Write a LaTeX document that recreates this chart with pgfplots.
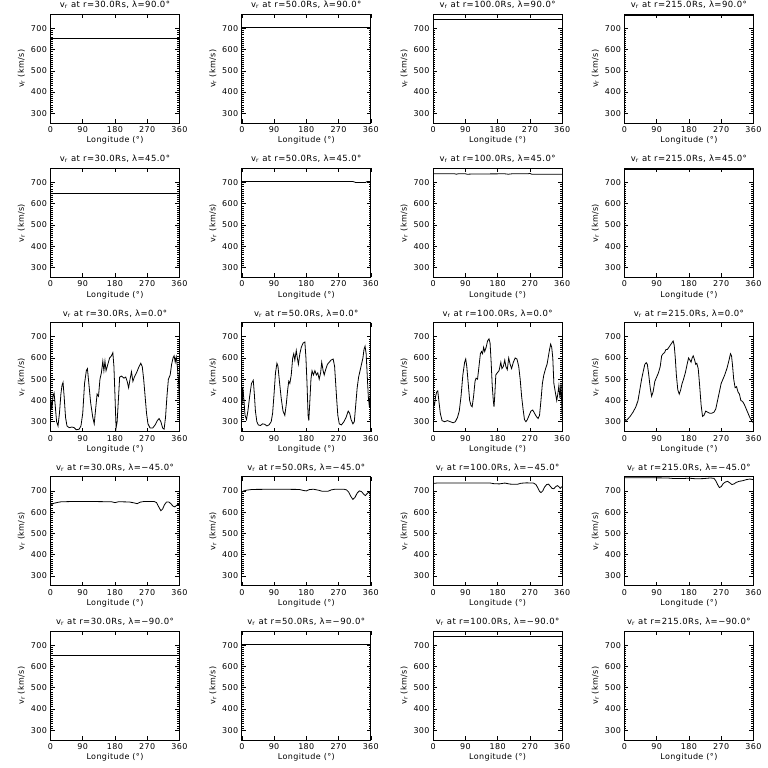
\documentclass[border=0pt]{standalone}
\usepackage{fontspec}
\setmainfont{DejaVu Sans}
\newfontfamily\idlfont[LetterSpace=5]{DejaVu Sans}
\usepackage{pgfplots}
\pgfplotsset{compat=1.18}
\pgfplotsset{
 panel/.style={
  scale only axis, width=129pt, height=109pt, anchor=south west,
  xmin=0, xmax=360, ymin=253, ymax=766,
  xtick={0,90,180,270,360}, ytick={300,400,500,600,700},
  minor y tick num=9,
  tick align=inside,
  major tick length=4pt, minor tick length=2pt,
  axis line style={line width=0.8pt},
  every tick/.style={black, line width=0.6pt},
  xlabel={Longitude (°)}, ylabel={v\textsubscript{r} (km/s)},
  tick label style={font=\idlfont\fontsize{8}{8}\selectfont},
  label style={font=\idlfont\fontsize{8}{8}\selectfont},
  title style={font=\idlfont\fontsize{8.5}{9}\selectfont, yshift=-4pt},
  xlabel style={yshift=3pt},
  ylabel style={yshift=-1pt},
  /pgf/number format/assume math mode=true,
  every axis plot post/.append style={black, line width=0.8pt, mark=none},
 }
}
\newcommand\panel[5]{%
\begin{axis}[panel, at={(#1pt,#2pt)}, title={v\textsubscript{r} at r=#3Rs, λ=#4°}]
#5
\end{axis}}
\begin{document}
\begin{tikzpicture}
\useasboundingbox (0,0) rectangle (768pt,768pt);
% Row 1: lambda = 90
\panel{50.5}{644.7}{30.0}{90.0}{\addplot coordinates {(0,652) (360,652)};}
\panel{241.8}{644.7}{50.0}{90.0}{\addplot coordinates {(0,705) (360,705)};}
\panel{433.1}{644.7}{100.0}{90.0}{\addplot coordinates {(0,740) (360,740)};}
\panel{624.4}{644.7}{215.0}{90.0}{\addplot coordinates {(0,763) (360,763)};}
% Row 2: lambda = 45
\panel{50.5}{490.5}{30.0}{45.0}{\addplot coordinates {(0,650) (360,650)};}
\panel{241.8}{490.5}{50.0}{45.0}{\addplot coordinates {(0,705) (310,705) (318,700) (345,700) (350,705) (360,705)};}
\panel{433.1}{490.5}{100.0}{45.0}{\addplot coordinates {(0,741) (60,741) (65,739) (70,741) (90,741) (95,739) (110,740) (200,741) (210,739) (220,741) (265,741) (270,743) (275,739) (360,739)};}
\panel{624.4}{490.5}{215.0}{45.0}{\addplot coordinates {(0,763) (360,763)};}
% Row 3: lambda = 0
\panel{50.5}{336.3}{30.0}{0.0}{\addplot coordinates {
(0,350) (2,400) (4,360) (7,420) (10,435) (13,380) (17,300) (21,280) (25,340) (29,430) (32,470) (35,485) (38,420) (42,320) (46,280) (52,272) (60,275) (66,272) (72,262) (80,265) (85,280) (90,340) (95,480) (100,540) (103,550) (107,480) (112,390) (118,320) (122,290) (126,360) (130,430) (134,420) (138,500) (142,530) (146,585) (149,540) (152,585) (155,540) (160,570) (165,600) (170,610) (174,625) (177,560) (180,420) (183,270) (186,300) (190,420) (193,510) (198,515) (205,505) (210,510) (214,490) (218,460) (222,500) (226,535) (230,490) (234,510) (240,530) (246,555) (252,575) (256,560) (260,500) (264,420) (268,340) (272,290) (278,270) (285,270) (292,285) (298,305) (303,315) (308,300) (313,270) (317,265) (321,320) (325,420) (329,500) (334,520) (338,570) (342,600) (345,610) (348,580) (351,605) (354,560) (357,500) (359,430) (360,400)};}
\panel{241.8}{336.3}{50.0}{0.0}{\addplot coordinates {
(0,460) (1,380) (3,460) (6,400) (9,330) (13,310) (17,350) (22,420) (27,480) (32,495) (35,430) (38,350) (42,300) (46,285) (52,282) (58,290) (64,288) (70,280) (76,285) (82,300) (86,340) (90,430) (94,530) (98,575) (101,560) (105,490) (110,410) (115,350) (120,330) (124,380) (128,450) (131,490) (134,480) (138,520) (142,600) (145,620) (148,590) (152,635) (155,600) (158,570) (162,620) (166,650) (171,670) (176,675) (179,600) (182,480) (185,330) (187,305) (190,400) (193,500) (196,540) (200,520) (204,540) (208,520) (212,530) (216,500) (220,530) (223,580) (227,540) (230,520) (234,545) (239,570) (244,580) (249,590) (255,595) (259,560) (262,480) (265,400) (268,330) (272,290) (278,285) (285,300) (291,320) (297,350) (301,340) (305,310) (310,290) (314,300) (318,380) (322,460) (326,510) (330,540) (334,570) (338,600) (341,640) (344,655) (347,620) (350,520) (353,420) (356,370) (358,420) (360,360)};}
\panel{433.1}{336.3}{100.0}{0.0}{\addplot coordinates {
(0,340) (2,390) (4,380) (7,420) (10,440) (13,445) (16,400) (20,340) (25,305) (32,300) (40,305) (48,300) (56,295) (62,300) (68,320) (73,350) (78,420) (83,520) (88,580) (91,595) (94,560) (98,480) (102,400) (106,375) (109,370) (113,420) (117,490) (120,505) (124,500) (128,560) (132,620) (135,630) (138,620) (141,650) (144,630) (148,650) (152,680) (156,690) (159,670) (162,580) (165,470) (168,400) (170,370) (172,420) (175,520) (179,530) (184,540) (189,580) (192,550) (196,560) (200,590) (203,560) (207,545) (211,600) (215,570) (219,550) (224,580) (229,600) (234,595) (239,560) (243,500) (247,420) (251,360) (255,310) (259,300) (263,310) (268,330) (273,350) (278,355) (283,340) (288,325) (293,315) (297,330) (301,400) (305,480) (309,520) (314,550) (318,570) (321,600) (325,640) (328,665) (331,650) (334,600) (337,480) (341,440) (345,400) (348,430) (351,470) (354,410) (357,480) (360,340)};}
\panel{624.4}{336.3}{215.0}{0.0}{\addplot coordinates {
(0,300) (8,310) (16,325) (24,345) (32,370) (38,400) (43,450) (48,500) (53,540) (57,570) (61,578) (64,570) (68,520) (72,460) (76,420) (80,440) (85,490) (90,510) (95,530) (100,560) (104,610) (108,620) (112,625) (116,640) (120,640) (124,650) (128,660) (132,670) (136,680) (139,660) (142,600) (145,520) (149,450) (153,430) (157,450) (161,480) (165,500) (170,530) (175,570) (179,600) (183,590) (186,580) (189,600) (192,610) (196,590) (199,570) (202,575) (206,550) (210,470) (214,380) (218,325) (222,330) (227,350) (232,345) (238,340) (244,340) (250,345) (255,360) (260,400) (265,440) (270,480) (275,500) (280,520) (286,550) (292,590) (296,620) (299,610) (302,560) (305,500) (309,460) (313,465) (317,440) (321,430) (325,400) (330,395) (335,380) (340,360) (345,340) (350,320) (355,305) (360,295)};}
% Row 4: lambda = -45
\panel{50.5}{182.1}{30.0}{−45.0}{\addplot coordinates {
(0,630) (5,638) (10,642) (20,646) (30,649) (60,650) (120,650) (170,649) (180,645) (190,649) (220,648) (235,643) (242,640) (250,647) (260,650) (290,650) (296,645) (302,625) (308,607) (313,615) (318,635) (324,648) (330,648) (336,640) (342,628) (347,625) (352,632) (356,637) (360,635)};}
\panel{241.8}{182.1}{50.0}{−45.0}{\addplot coordinates {
(0,693) (5,700) (15,704) (30,707) (100,708) (160,707) (172,702) (180,700) (188,706) (200,708) (215,703) (225,698) (240,698) (250,705) (260,708) (285,708) (292,705) (298,695) (304,675) (310,660) (316,670) (322,690) (328,700) (334,697) (340,685) (345,678) (350,688) (355,695) (358,685) (360,690)};}
\panel{433.1}{182.1}{100.0}{−45.0}{\addplot coordinates {
(0,735) (10,737) (160,737) (170,734) (185,733) (200,737) (215,732) (235,731) (245,736) (260,738) (280,737) (287,730) (292,715) (297,698) (301,692) (306,700) (311,718) (317,730) (322,732) (327,722) (332,712) (337,710) (342,720) (347,725) (351,720) (355,712) (358,718) (360,720)};}
\panel{624.4}{182.1}{215.0}{−45.0}{\addplot coordinates {
(0,762) (60,762) (120,761) (140,758) (160,758) (180,760) (200,757) (220,758) (240,761) (250,759) (255,748) (260,730) (265,716) (270,720) (276,735) (282,742) (288,745) (294,738) (300,730) (306,733) (312,740) (320,745) (330,748) (340,753) (350,756) (360,753)};}
% Row 5: lambda = -90
\panel{50.5}{27.9}{30.0}{−90.0}{\addplot coordinates {(0,650) (360,650)};}
\panel{241.8}{27.9}{50.0}{−90.0}{\addplot coordinates {(0,705) (360,705)};}
\panel{433.1}{27.9}{100.0}{−90.0}{\addplot coordinates {(0,740) (360,740)};}
\panel{624.4}{27.9}{215.0}{−90.0}{\addplot coordinates {(0,763) (360,763)};}
\end{tikzpicture}
\end{document}
